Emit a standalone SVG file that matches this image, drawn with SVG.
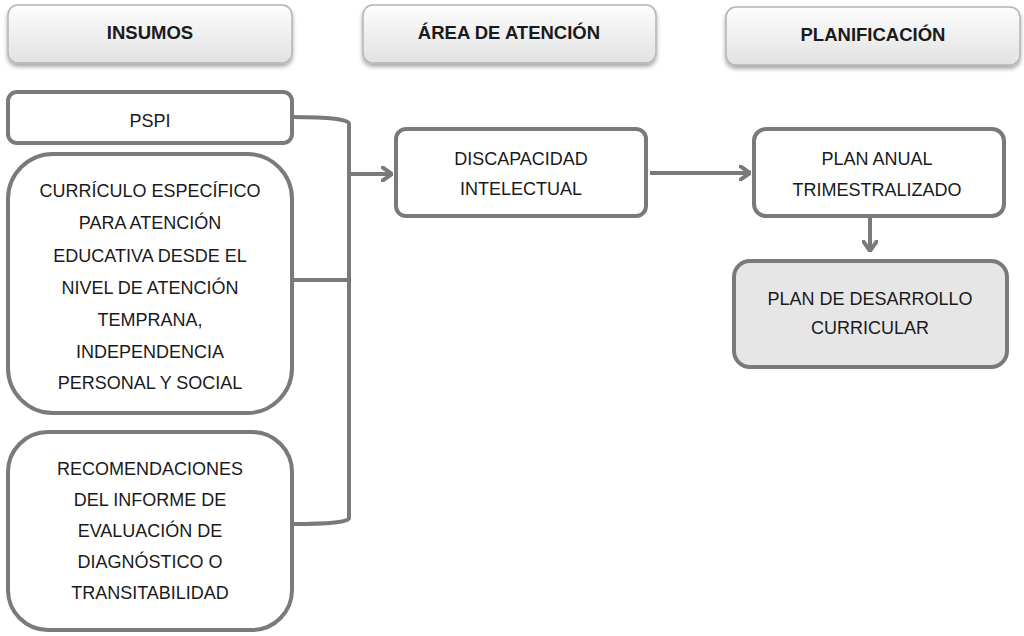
<svg xmlns="http://www.w3.org/2000/svg" width="1024" height="636" viewBox="0 0 1024 636">
<defs>
<linearGradient id="hg" x1="0" y1="0" x2="0" y2="1">
<stop offset="0" stop-color="#fdfdfd"/>
<stop offset="1" stop-color="#e2e2e2"/>
</linearGradient>
<filter id="sh" x="-10%" y="-20%" width="120%" height="150%">
<feDropShadow dx="0" dy="3" stdDeviation="2" flood-color="#000" flood-opacity="0.35"/>
</filter>
<marker id="ah" viewBox="0 0 12 16" refX="11" refY="8" markerWidth="12" markerHeight="16" markerUnits="userSpaceOnUse" orient="auto">
<path d="M1 1 L11 8 L1 15" fill="none" stroke="#7a7a7a" stroke-width="4" stroke-linecap="round" stroke-linejoin="round"/>
</marker>
</defs>
<style>
.hdr{fill:url(#hg);stroke:#b4b4b4;stroke-width:1.5;filter:url(#sh)}
.ht{font-family:"Liberation Sans",Arial,sans-serif;font-weight:bold;font-size:18.5px;fill:#1a1a1a;text-anchor:middle}
.box{fill:#fff;stroke:#7a7a7a;stroke-width:4}
.bt{font-family:"Liberation Sans",Arial,sans-serif;font-size:18px;fill:#1a1a1a;text-anchor:middle}
.con{fill:none;stroke:#7a7a7a;stroke-width:4;stroke-linejoin:round}
</style>
<g id="h-insumos"><rect class="hdr" x="8" y="5" width="284" height="58" rx="10"/><text class="ht" x="150" y="39">INSUMOS</text></g>
<g id="h-area"><rect class="hdr" x="363" y="5" width="293" height="58" rx="10"/><text class="ht" x="509" y="39">ÁREA DE ATENCIÓN</text></g>
<g id="h-plan"><rect class="hdr" x="726" y="7" width="294" height="58" rx="10"/><text class="ht" x="873" y="41">PLANIFICACIÓN</text></g>

<g id="pspi"><rect class="box" x="8" y="92" width="284" height="51" rx="9"/><text class="bt" x="150" y="127">PSPI</text></g>
<g id="curriculo"><rect class="box" x="8" y="154" width="284" height="259" rx="45"/>
<text class="bt" x="150" y="197">CURRÍCULO ESPECÍFICO</text>
<text class="bt" x="150" y="229">PARA ATENCIÓN</text>
<text class="bt" x="150" y="262">EDUCATIVA DESDE EL</text>
<text class="bt" x="150" y="294">NIVEL DE ATENCIÓN</text>
<text class="bt" x="150" y="326">TEMPRANA,</text>
<text class="bt" x="150" y="358">INDEPENDENCIA</text>
<text class="bt" x="150" y="389">PERSONAL Y SOCIAL</text>
</g>
<g id="recomendaciones"><rect class="box" x="8" y="432" width="284" height="198" rx="40"/>
<text class="bt" x="150" y="475">RECOMENDACIONES</text>
<text class="bt" x="150" y="506">DEL INFORME DE</text>
<text class="bt" x="150" y="537">EVALUACIÓN DE</text>
<text class="bt" x="150" y="568">DIAGNÓSTICO O</text>
<text class="bt" x="150" y="599">TRANSITABILIDAD</text>
</g>
<g id="discapacidad"><rect class="box" x="396" y="129" width="250" height="87" rx="10"/>
<text class="bt" x="521" y="165">DISCAPACIDAD</text>
<text class="bt" x="521" y="195">INTELECTUAL</text>
</g>
<g id="plananual"><rect class="box" x="754" y="129" width="250" height="87" rx="12"/>
<text class="bt" x="877" y="165">PLAN ANUAL</text>
<text class="bt" x="877" y="196">TRIMESTRALIZADO</text>
</g>
<g id="desarrollo"><rect class="box" x="734" y="261" width="273" height="106" rx="16" style="fill:#e6e6e6"/>
<text class="bt" x="870" y="305">PLAN DE DESARROLLO</text>
<text class="bt" x="870" y="334">CURRICULAR</text>
</g>

<g id="connectors">
<path class="con" d="M292 117 Q349 117 349 124 L349 518 Q349 524 292 524"/>
<path class="con" d="M292 280 L349 280"/>
<path class="con" d="M349 174 L392 174" marker-end="url(#ah)"/>
<path class="con" d="M650 173 L750 173" marker-end="url(#ah)"/>
<path class="con" d="M870 217 L870 251" marker-end="url(#ah)"/>
</g>
</svg>
